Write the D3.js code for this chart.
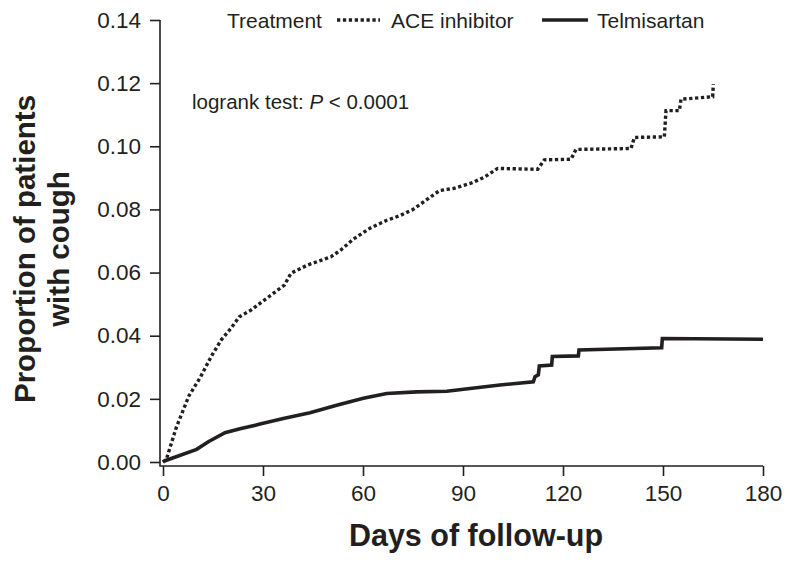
<!DOCTYPE html>
<html>
<head>
<meta charset="utf-8">
<script src="https://cdn.jsdelivr.net/npm/d3@7"></script>
<style>
  html, body { margin: 0; padding: 0; background: #fff; }
  svg { display: block; font-family: "Liberation Sans", Arial, Helvetica, sans-serif; }
</style>
</head>
<body>
<svg id="chart" width="789" height="562"></svg>
<script>
// ---- data ----
const aceDays = [0, 1, 4, 7.8, 11.3, 14.5, 17.5, 20.5, 22.9, 26.4, 30.4, 36.4, 38.4, 43.4, 50.4, 53.4, 57, 62, 67, 71, 75, 79, 83, 87.4, 92.4, 96.4, 100.4, 112.4, 114.4, 122.4, 123.9, 140.4, 141.4, 150.4, 150.9, 154.9, 155.4, 164.9, 165.1];
const aceValues = [0, 0.0008, 0.011, 0.021, 0.027, 0.0335, 0.0387, 0.0425, 0.046, 0.0481, 0.0513, 0.056, 0.0598, 0.0624, 0.065, 0.0672, 0.0705, 0.074, 0.0765, 0.078, 0.080, 0.083, 0.086, 0.0867, 0.0883, 0.0902, 0.093, 0.0927, 0.0957, 0.0959, 0.099, 0.0993, 0.1028, 0.103, 0.1113, 0.1113, 0.1149, 0.1157, 0.1197];
const telDays = [0, 0.6, 10.1, 13.6, 18.6, 23.1, 29.1, 36.1, 44.1, 52.1, 60.1, 67.1, 76.1, 85.1, 92.1, 101.1, 111.1, 111.6, 112.6, 112.9, 116.6, 116.8, 124.6, 124.8, 149.6, 149.8, 180];
const telValues = [0, 0.0004, 0.004, 0.0064, 0.0093, 0.0105, 0.012, 0.0138, 0.0156, 0.018, 0.0202, 0.0217, 0.0222, 0.0224, 0.0233, 0.0244, 0.0254, 0.027, 0.0276, 0.0304, 0.0307, 0.0334, 0.0336, 0.0355, 0.0362, 0.0391, 0.0389];
const xTicks = [0, 30, 60, 90, 120, 150, 180];
const yTicks = [0, 0.02, 0.04, 0.06, 0.08, 0.10, 0.12, 0.14];
const seriesNames = ["ACE inhibitor", "Telmisartan"];
const legendTitle = "Treatment";
const xTitle = "Days of follow-up";
const yTitleLines = ["Proportion of patients", "with cough"];

// ---- layout ----
const ink = "#231f20";
const svg = d3.select("#chart");
const x = d3.scaleLinear().domain([0, 180]).range([163, 763]);
const y = d3.scaleLinear().domain([0, 0.14]).range([462, 20]);
const axisY = 466, axisX = 160;
const tickFont = 22.5;

// x axis
const gx = svg.append("g").attr("transform", `translate(0,${axisY})`)
  .call(d3.axisBottom(x).tickValues(xTicks).tickSize(10).tickSizeOuter(0).tickPadding(9).tickFormat(d3.format("d")));
gx.select(".domain").remove();
gx.selectAll(".tick line").attr("stroke", ink).attr("stroke-width", 1.6);
gx.selectAll(".tick text").attr("fill", ink).attr("font-size", tickFont).attr("font-family", "Liberation Sans, Arial, sans-serif");

// y axis
const gy = svg.append("g").attr("transform", `translate(${axisX},0)`)
  .call(d3.axisLeft(y).tickValues(yTicks).tickSize(10).tickSizeOuter(0).tickPadding(9).tickFormat(d3.format(".2f")));
gy.select(".domain").remove();
gy.selectAll(".tick line").attr("stroke", ink).attr("stroke-width", 1.6);
gy.selectAll(".tick text").attr("fill", ink).attr("font-size", tickFont).attr("font-family", "Liberation Sans, Arial, sans-serif");

// L-shaped axis frame
svg.append("path")
  .attr("d", `M${axisX},${y(0.14)}V${axisY}H${x(180)}`)
  .attr("fill", "none").attr("stroke", ink).attr("stroke-width", 1.6);

// curves
const line = d3.line().x(d => x(d[0])).y(d => y(d[1])).curve(d3.curveLinear);
const aceData = aceDays.map((d, i) => [d, aceValues[i]]);
const telData = telDays.map((d, i) => [d, telValues[i]]);

svg.append("path").datum(telData).attr("d", line)
  .attr("fill", "none").attr("stroke", ink).attr("stroke-width", 3.6).attr("stroke-linejoin", "miter");
svg.append("path").datum(aceData).attr("d", line)
  .attr("fill", "none").attr("stroke", ink).attr("stroke-width", 3.4).attr("stroke-dasharray", "3.3,2.6");

// legend
const leg = svg.append("g").attr("font-size", 21).attr("fill", ink);
leg.append("text").attr("x", 227).attr("y", 28).text(legendTitle);
leg.append("line").attr("x1", 337).attr("x2", 380).attr("y1", 20).attr("y2", 20)
  .attr("stroke", ink).attr("stroke-width", 3.4).attr("stroke-dasharray", "3.3,2.6");
leg.append("text").attr("x", 391).attr("y", 28).text(seriesNames[0]);
leg.append("line").attr("x1", 542).attr("x2", 588).attr("y1", 20).attr("y2", 20)
  .attr("stroke", ink).attr("stroke-width", 3.6);
leg.append("text").attr("x", 597).attr("y", 28).text(seriesNames[1]);

// logrank annotation
const lr = svg.append("text").attr("x", 192).attr("y", 109).attr("font-size", 20.5).attr("fill", ink);
lr.append("tspan").text("logrank test: ");
lr.append("tspan").attr("font-style", "italic").text("P");
lr.append("tspan").text(" < 0.0001");

// axis titles
svg.append("text").attr("x", 476).attr("y", 546).attr("text-anchor", "middle")
  .attr("font-size", 30.5).attr("font-weight", "bold").attr("fill", ink).text(xTitle);

const yt = svg.append("text").attr("transform", "translate(35,249) rotate(-90)")
  .attr("text-anchor", "middle").attr("font-size", 29.5).attr("font-weight", "bold").attr("fill", ink);
yt.append("tspan").attr("x", 0).attr("y", 0).text(yTitleLines[0]);
yt.append("tspan").attr("x", 0).attr("y", 0).attr("dy", 33.5).text(yTitleLines[1]);
</script>
</body>
</html>
